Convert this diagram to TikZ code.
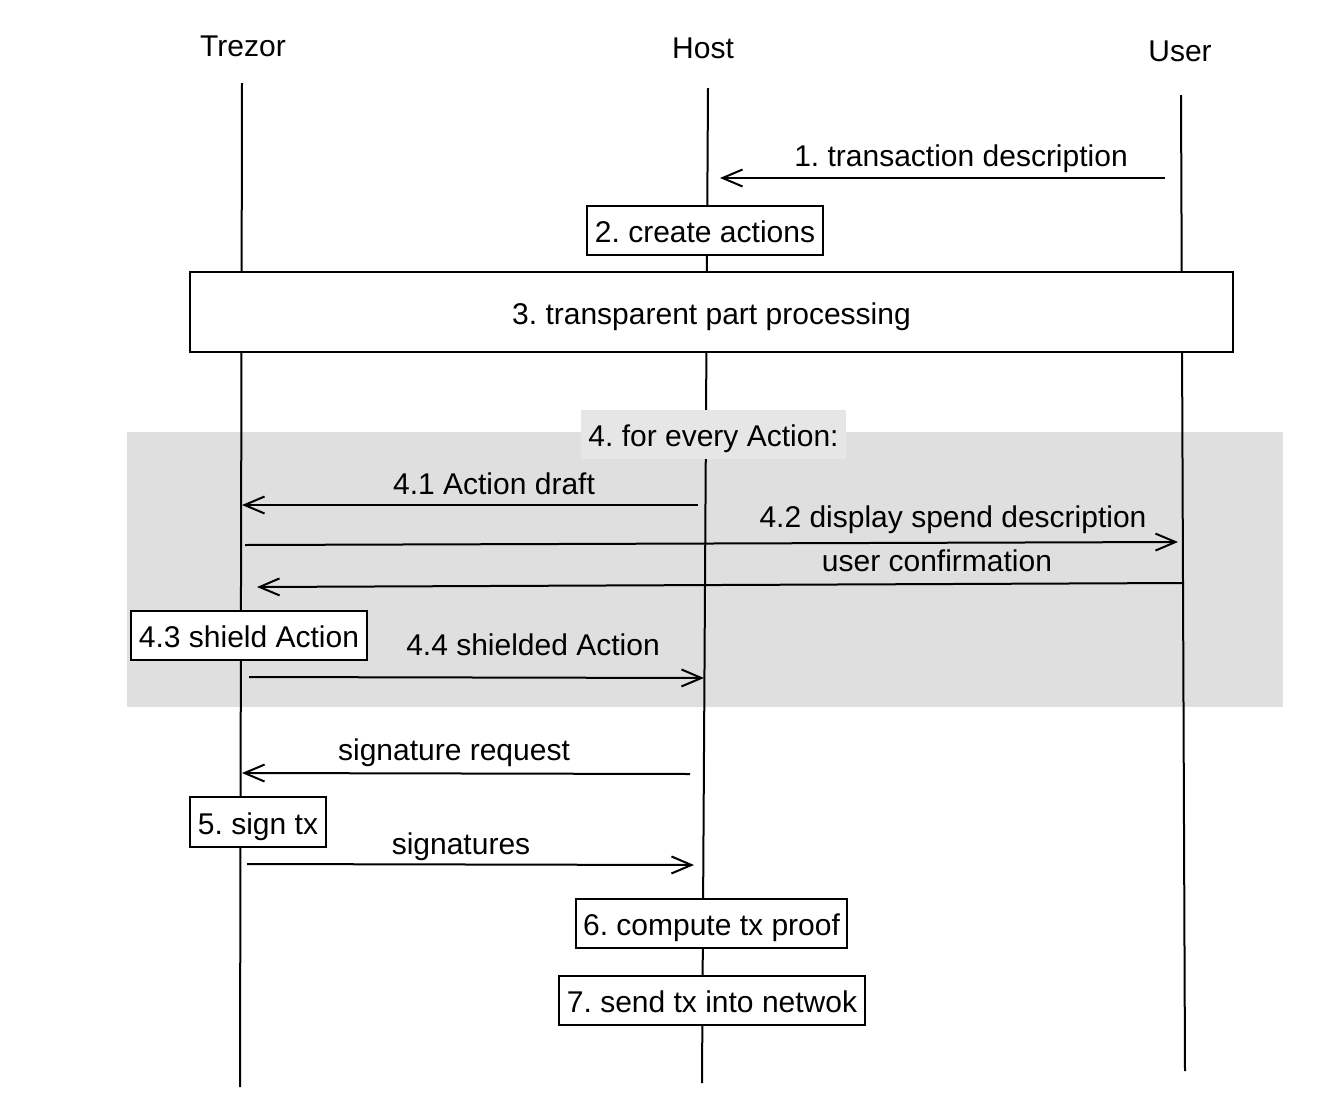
\documentclass[tikz,border=0pt]{standalone}
\usepackage{fontspec}
\setmainfont{Liberation Sans}
\usetikzlibrary{arrows.meta}
\frenchspacing
\definecolor{regiongray}{HTML}{DFDFDF}
\definecolor{labelgray}{HTML}{E6E6E6}
\tikzset{
  lbl/.style={font=\fontsize{30}{34}\selectfont, inner sep=0pt, anchor=base},
  life/.style={line width=2pt},
  msg/.style={line width=2pt, -{Straight Barb[length=20pt,width=17pt,line width=2pt]}},
  procbox/.style={draw, line width=2pt, fill=white, inner sep=0pt, text height=24pt, text depth=0pt, font=\fontsize{30}{34}\selectfont},
}
\begin{document}
\begin{tikzpicture}[x=1pt,y=-1pt]
\useasboundingbox (0,0) rectangle (1323,1106);
% region
\fill[regiongray] (127,432) rectangle (1283,707);
% headers
\node[lbl] (tz) at (243,56) {Trezor};
\node[lbl] (hs) at (703,58) {Host};
\node[lbl] (us) at (1180,61) {User};
% lifelines
\coordinate (tzT) at (242,83); \coordinate (tzB) at (240,1087);
\coordinate (hsT) at (708,88); \coordinate (hsB) at (702,1083);
\coordinate (usT) at (1181,95); \coordinate (usB) at (1185,1071);
\draw[life] (tzT) -- (tzB);
\draw[life] (hsT) -- (hsB);
\draw[life] (usT) -- (usB);
% boxes
\node[procbox, minimum width=236pt, minimum height=49pt] (b2) at (705,230.5) {2. create actions};
\node[procbox, minimum width=1043pt, minimum height=80pt] (b3) at (711.5,312) {3. transparent part processing};
\node[fill=labelgray, minimum width=265pt, minimum height=49pt, inner sep=0pt, text height=24pt, text depth=0pt, font=\fontsize{30}{34}\selectfont] (b4) at (713.5,434.5) {4. for every Action:};
\node[procbox, minimum width=236pt, minimum height=49pt] (b43) at (249,635.5) {4.3 shield Action};
\node[procbox, minimum width=136pt, minimum height=50pt] (b5) at (258,822) {5. sign tx};
\node[procbox, minimum width=271pt, minimum height=49pt] (b6) at (711.5,923.5) {6. compute tx proof};
\node[procbox, minimum width=306pt, minimum height=49pt] (b7) at (712,1000.5) {7. send tx into netwok};
% messages
\coordinate (m1s) at (1165,178); \coordinate (m1e) at (720,178);
\draw[msg] (m1s) -- (m1e);
\node[lbl] (l1) at (961,166) {1. transaction description};
\coordinate (m41s) at (698,505); \coordinate (m41e) at (242,505);
\draw[msg] (m41s) -- (m41e);
\node[lbl] (l41) at (494,494) {4.1 Action draft};
\coordinate (m42s) at (245,545); \coordinate (m42e) at (1178,542);
\draw[msg] (m42s) -- (m42e);
\node[lbl] (l42) at (953,527) {4.2 display spend description};
\coordinate (mucs) at (1183,583); \coordinate (muce) at (257,587);
\draw[msg] (mucs) -- (muce);
\node[lbl] (luc) at (937,571) {user confirmation};
\coordinate (m44s) at (249,677); \coordinate (m44e) at (704,678);
\draw[msg] (m44s) -- (m44e);
\node[lbl] (l44) at (533,655) {4.4 shielded Action};
\coordinate (msrs) at (690,774); \coordinate (msre) at (242,773);
\draw[msg] (msrs) -- (msre);
\node[lbl] (lsr) at (454,760) {signature request};
\coordinate (msgs) at (247,864); \coordinate (msge) at (694,865);
\draw[msg] (msgs) -- (msge);
\node[lbl] (lsg) at (461,854) {signatures};
\end{tikzpicture}
\end{document}
